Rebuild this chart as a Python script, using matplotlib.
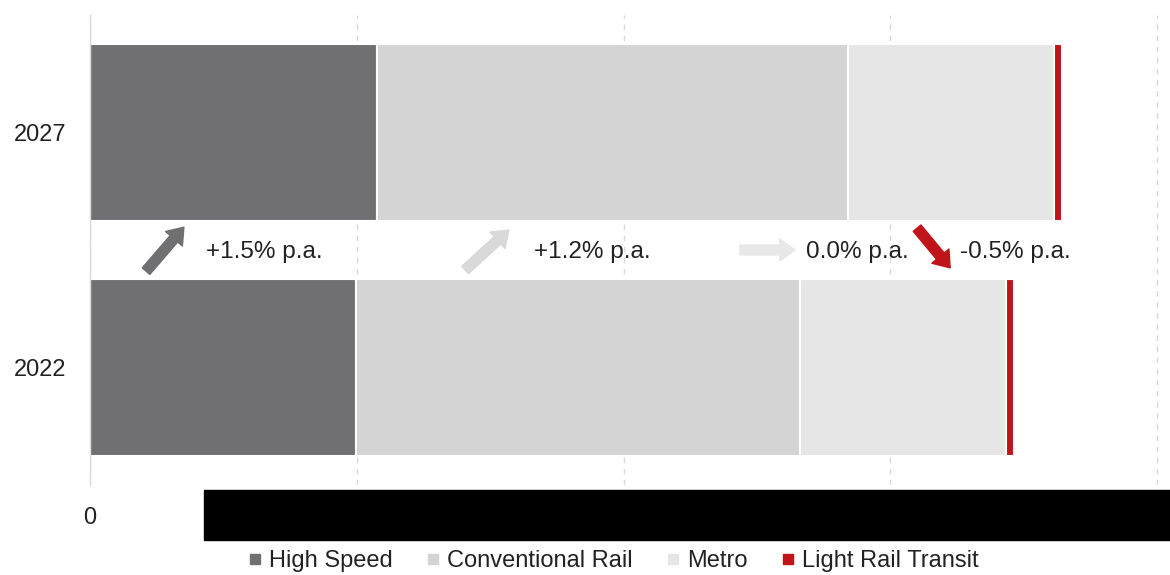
import matplotlib
matplotlib.use('Agg')
import matplotlib.pyplot as plt
from matplotlib.lines import Line2D
from matplotlib.patches import Rectangle

plt.rcParams['font.family'] = ['Liberation Sans', 'DejaVu Sans']

# data (axis units hidden in the source, grid every 5)
years = ['2022', '2027']
segments = ['High Speed', 'Conventional Rail', 'Metro', 'Light Rail Transit']
values = {
    'High Speed': [4.99, 5.38],
    'Conventional Rail': [8.32, 8.83],
    'Metro': [3.86, 3.86],
    'Light Rail Transit': [0.15, 0.147],
}
growth_labels = ['+1.5% p.a.', '+1.2% p.a.', '0.0% p.a.', '-0.5% p.a.']
x_ticks = [0, 5, 10, 15, 20]

colors = ['#707072', '#d4d4d4', '#e6e6e6', '#c0141a']
arrow_colors = ['#707072', '#d9d9d9', '#e8e8e8', '#c0141a']

fig = plt.figure(figsize=(11.7, 5.75), dpi=100)
ax = fig.add_axes([90 / 1170, 90 / 575, 1 - 90 / 1170, 470 / 575])

ypos = list(range(len(years)))
left = [0.0] * len(years)
for seg, col in zip(segments, colors):
    ax.barh(ypos, values[seg], left=left, height=0.755, color=col,
            edgecolor='white', linewidth=1.5, label=seg, zorder=2)
    left = [l + v for l, v in zip(left, values[seg])]

# growth arrows and labels between the bars
arrows = [
    ((1.05, 0.41), (1.76, 0.597)),
    ((7.03, 0.415), (7.85, 0.585)),
    ((12.18, 0.5), (13.21, 0.5)),
    ((15.50, 0.593), (16.12, 0.424)),
]
text_x = [2.17, 8.32, 13.42, 16.31]
for (tail, head), col, lab, tx in zip(arrows, arrow_colors, growth_labels, text_x):
    ax.annotate('', xy=head, xytext=tail,
                arrowprops=dict(arrowstyle='simple,head_length=1.1,head_width=1.6,tail_width=0.72',
                                color=col, shrinkA=0, shrinkB=0, mutation_scale=10),
                zorder=3)
    ax.text(tx, 0.492, lab, fontsize=17.5, color='#222222', va='center', ha='left', zorder=3)

ax.set_xlim(0, 20.24)
ax.set_ylim(-0.5, 1.5)
ax.set_yticks(ypos)
ax.set_yticklabels(years)
ax.set_xticks(x_ticks)
ax.tick_params(axis='both', length=0, labelsize=17, labelcolor='#222222')
ax.tick_params(axis='y', pad=17)
ax.tick_params(axis='x', pad=16)
ax.xaxis.grid(True, color='#d9d9d9', linestyle=(0, (4, 4)), linewidth=1, zorder=0)
ax.set_axisbelow(True)
for side in ['top', 'right', 'bottom']:
    ax.spines[side].set_visible(False)
ax.spines['left'].set_color('#d9d9d9')
ax.spines['left'].set_linewidth(1)

# redacted strip over the axis labels
fig.patches.append(Rectangle((204 / 1170, 35 / 575), 966 / 1170, 50 / 575,
                             transform=fig.transFigure, color='black', zorder=10))

handles = [Line2D([], [], marker='s', linestyle='none', color=c, markersize=6.5)
           for c in colors]
fig.legend(handles, segments, loc='center', bbox_to_anchor=(0.524, 0.024),
           ncol=4, frameon=False, fontsize=17, handlelength=0.6,
           handletextpad=0.3, columnspacing=1.4, labelcolor='#222222',
           borderpad=0.1)

fig.savefig('out.png', dpi=100)
